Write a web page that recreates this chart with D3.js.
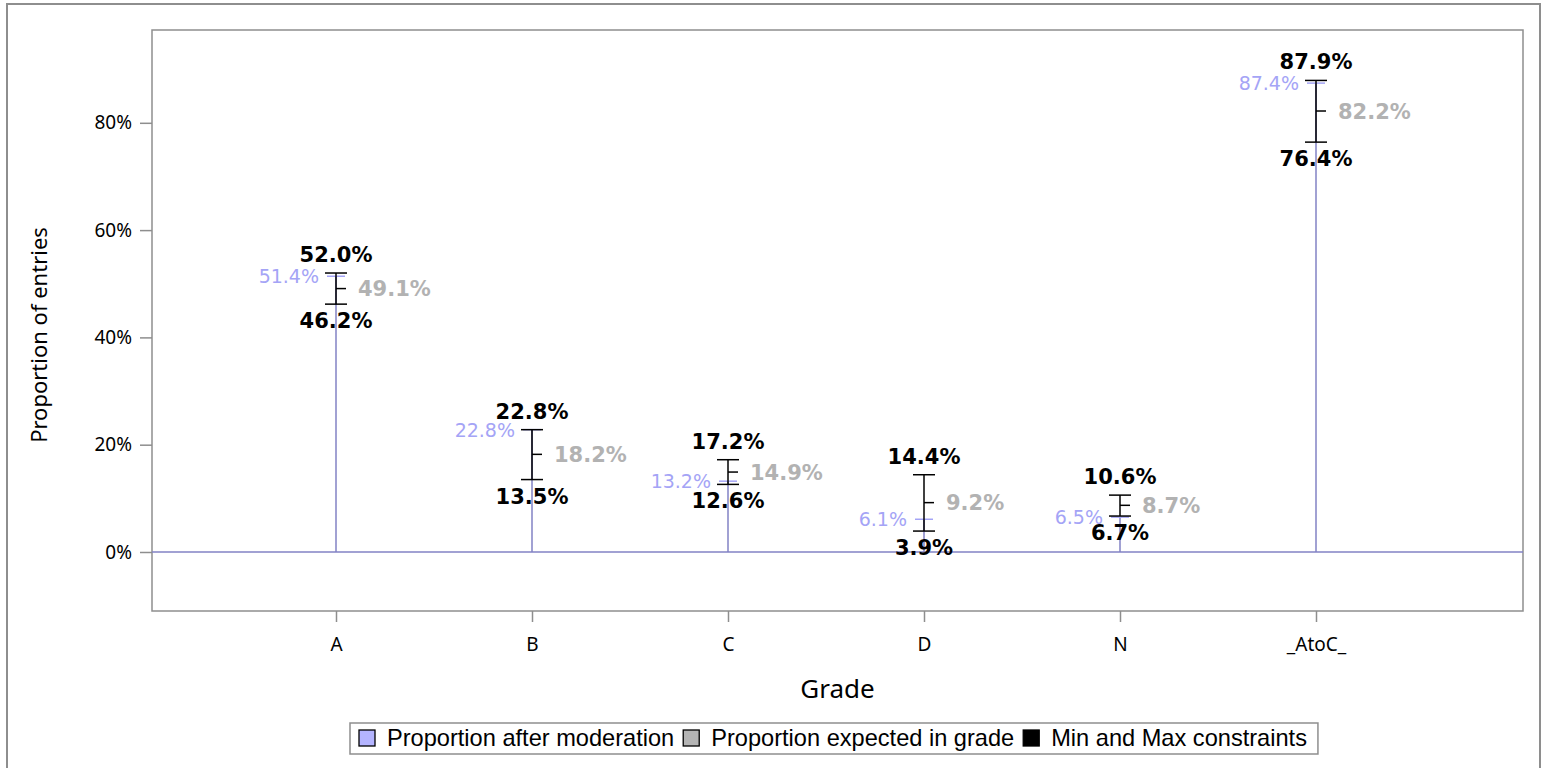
<!DOCTYPE html>
<html>
<head>
<meta charset="utf-8">
<script src="https://cdn.jsdelivr.net/npm/d3@7"></script>
<style>
  body { margin: 0; background: #fff; }
  svg { display: block; }
</style>
</head>
<body>
<svg id="chart" width="1544" height="768"></svg>
<script>
// values, in percent
const grades = ["A", "B", "C", "D", "N", "_AtoC_"];
const moderated = [51.4, 22.8, 13.2, 6.1, 6.5, 87.4];
const expected = [49.1, 18.2, 14.9, 9.2, 8.7, 82.2];
const minLimit = [46.2, 13.5, 12.6, 3.9, 6.7, 76.4];
const maxLimit = [52.0, 22.8, 17.2, 14.4, 10.6, 87.9];
const yTicks = [0, 20, 40, 60, 80];

const legendItems = [
  { label: "Proportion after moderation", fill: "#b4b4ff" },
  { label: "Proportion expected in grade", fill: "#b4b4b4" },
  { label: "Min and Max constraints", fill: "#000000" }
];

const rows = grades.map((g, i) => ({
  grade: g, mod: moderated[i], exp: expected[i], lo: minLimit[i], hi: maxLimit[i]
}));

const FONT = "'Noto Sans', sans-serif";
const LABFONT = "'DejaVu Sans', sans-serif";
const NEEDLE = "#8282c4";
const MODCOL = "#a4a4f6";
const EXPCOL = "#b2b2b2";
const AXIS = "#8e8e8e";

const plot = { left: 152, top: 30, right: 1523, bottom: 611 };

const svg = d3.select("#chart");

// outer frame
svg.append("rect")
  .attr("x", 7).attr("y", 4).attr("width", 1533).attr("height", 800)
  .attr("fill", "none").attr("stroke", AXIS).attr("stroke-width", 2);

const x = d3.scalePoint().domain(grades).range([336, 1316]);
const y = d3.scaleLinear().domain([-11, 97.3]).range([plot.bottom, plot.top]);

// plot frame
svg.append("rect")
  .attr("x", plot.left).attr("y", plot.top)
  .attr("width", plot.right - plot.left).attr("height", plot.bottom - plot.top)
  .attr("fill", "none").attr("stroke", AXIS).attr("stroke-width", 1.5);

// y axis
const yAxis = svg.append("g")
  .attr("transform", `translate(${plot.left},0)`)
  .call(d3.axisLeft(y).tickValues(yTicks).tickSize(12).tickPadding(8).tickFormat(d => d + "%"));
yAxis.select(".domain").remove();
yAxis.selectAll(".tick line").attr("stroke", AXIS).attr("stroke-width", 1.5);
yAxis.selectAll(".tick text").attr("font-family", FONT).attr("font-size", 19).attr("fill", "#000");

// x axis
const xAxis = svg.append("g")
  .attr("transform", `translate(0,${plot.bottom})`)
  .call(d3.axisBottom(x).tickSize(11).tickPadding(16));
xAxis.select(".domain").remove();
xAxis.selectAll(".tick line").attr("stroke", AXIS).attr("stroke-width", 1.5);
xAxis.selectAll(".tick text").attr("font-family", FONT).attr("font-size", 19).attr("fill", "#000");

// axis titles
svg.append("text")
  .attr("x", (plot.left + plot.right) / 2).attr("y", 698)
  .attr("text-anchor", "middle")
  .attr("font-family", FONT).attr("font-size", 26)
  .text("Grade");

svg.append("text")
  .attr("transform", `translate(47,335) rotate(-90)`)
  .attr("text-anchor", "middle")
  .attr("font-family", FONT).attr("font-size", 22)
  .text("Proportion of entries");

// baseline of needles
svg.append("line")
  .attr("x1", plot.left).attr("x2", plot.right)
  .attr("y1", y(0)).attr("y2", y(0))
  .attr("stroke", NEEDLE).attr("stroke-width", 1.5);

const g = svg.append("g");

// needles
g.selectAll(".needle").data(rows).join("line")
  .attr("class", "needle")
  .attr("x1", d => x(d.grade)).attr("x2", d => x(d.grade))
  .attr("y1", y(0)).attr("y2", d => y(d.mod))
  .attr("stroke", NEEDLE).attr("stroke-width", 1.5);

// moderated markers
g.selectAll(".modmark").data(rows).join("line")
  .attr("class", "modmark")
  .attr("x1", d => x(d.grade) - 9).attr("x2", d => x(d.grade) + 9)
  .attr("y1", d => y(d.mod)).attr("y2", d => y(d.mod))
  .attr("stroke", MODCOL).attr("stroke-width", 1.5);

// min/max error bars
g.selectAll(".bar").data(rows).join("line")
  .attr("class", "bar")
  .attr("x1", d => x(d.grade)).attr("x2", d => x(d.grade))
  .attr("y1", d => y(d.lo)).attr("y2", d => y(d.hi))
  .attr("stroke", "#000").attr("stroke-width", 1.5);

["lo", "hi"].forEach(k => {
  g.selectAll(".cap-" + k).data(rows).join("line")
    .attr("class", "cap-" + k)
    .attr("x1", d => x(d.grade) - 11).attr("x2", d => x(d.grade) + 11)
    .attr("y1", d => y(d[k])).attr("y2", d => y(d[k]))
    .attr("stroke", "#000").attr("stroke-width", 1.5);
});

// expected tick, right side of bar
g.selectAll(".expmark").data(rows).join("line")
  .attr("class", "expmark")
  .attr("x1", d => x(d.grade)).attr("x2", d => x(d.grade) + 10)
  .attr("y1", d => y(d.exp)).attr("y2", d => y(d.exp))
  .attr("stroke", "#000").attr("stroke-width", 1.5);

const fmt = v => v.toFixed(1) + "%";

// labels
g.selectAll(".lab-hi").data(rows).join("text")
  .attr("class", "lab-hi")
  .attr("x", d => x(d.grade)).attr("y", d => y(d.hi) - 11)
  .attr("text-anchor", "middle")
  .attr("font-family", LABFONT).attr("font-size", 21).attr("font-weight", "bold")
  .text(d => fmt(d.hi));

g.selectAll(".lab-lo").data(rows).join("text")
  .attr("class", "lab-lo")
  .attr("x", d => x(d.grade)).attr("y", d => y(d.lo) + 24)
  .attr("text-anchor", "middle")
  .attr("font-family", LABFONT).attr("font-size", 21).attr("font-weight", "bold")
  .text(d => fmt(d.lo));

g.selectAll(".lab-mod").data(rows).join("text")
  .attr("class", "lab-mod")
  .attr("x", d => x(d.grade) - 17).attr("y", d => y(d.mod))
  .attr("dy", "0.36em")
  .attr("text-anchor", "end")
  .attr("font-family", LABFONT).attr("font-size", 19)
  .attr("fill", MODCOL)
  .text(d => fmt(d.mod));

g.selectAll(".lab-exp").data(rows).join("text")
  .attr("class", "lab-exp")
  .attr("x", d => x(d.grade) + 22).attr("y", d => y(d.exp))
  .attr("dy", "0.36em")
  .attr("font-family", LABFONT).attr("font-size", 21).attr("font-weight", "bold")
  .attr("fill", EXPCOL)
  .text(d => fmt(d.exp));

// legend
const legend = svg.append("g");
const legendBox = legend.append("rect")
  .attr("y", 723).attr("height", 31)
  .attr("fill", "#fff").attr("stroke", AXIS).attr("stroke-width", 1.5);

let lx = 359;
legendItems.forEach(item => {
  legend.append("rect")
    .attr("x", lx).attr("y", 730).attr("width", 16).attr("height", 16)
    .attr("fill", item.fill).attr("stroke", "#000").attr("stroke-width", 1.3);
  const t = legend.append("text")
    .attr("x", lx + 28).attr("y", 746)
    .attr("font-family", "'Liberation Sans', Arial, sans-serif").attr("font-size", 23.6)
    .text(item.label);
  lx += 28 + t.node().getComputedTextLength() + 9;
});
legendBox.attr("x", 350).attr("width", lx - 9 + 11 - 350);
</script>
</body>
</html>
